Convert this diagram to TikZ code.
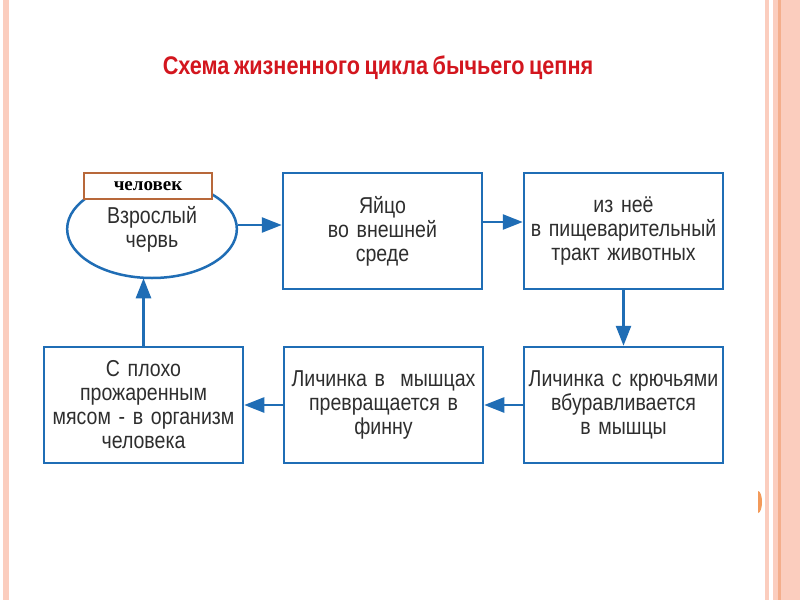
\documentclass[tikz,border=0pt]{standalone}
\usepackage{fontspec}
\setmainfont{Liberation Sans}[FakeStretch=0.85,WordSpace=0.75]
\newfontfamily\labelfont{Liberation Serif}
\usetikzlibrary{arrows.meta,shapes.geometric}
\definecolor{cycleblue}{HTML}{1F6DB5}
\definecolor{cyclered}{HTML}{D3161E}
\definecolor{stagegray}{HTML}{2E2E2E}
\definecolor{labelbrown}{HTML}{B8683A}
\definecolor{slidepink}{HTML}{FBCDBE}
\definecolor{slidesalmon}{HTML}{F4AE8C}
\definecolor{slidedot}{HTML}{F39A5A}
\tikzset{
  stage/.style={
    draw=cycleblue, line width=2.5pt, fill=white,
    minimum width=199pt, minimum height=116pt, inner sep=2pt,
    text width=190pt, align=center, text=stagegray,
    font={\fontsize{23}{24}\selectfont}
  },
  worm/.style={
    stage, ellipse, minimum width=138pt, minimum height=98pt,
    text width=120pt, inner sep=0pt
  },
  hostlabel/.style={
    draw=labelbrown, line width=1.6pt, fill=white,
    minimum width=128pt, minimum height=26pt, inner sep=0pt,
    font={\labelfont\bfseries\fontsize{19}{20}\selectfont}
  },
  cycle/.style={
    draw=cycleblue, line width=2.5pt,
    -{Triangle[length=20pt,width=15pt]}
  }
}
\begin{document}
\begin{tikzpicture}[x=1pt,y=-1pt]
\useasboundingbox (0,0) rectangle (800,600);
\fill[white] (0,0) rectangle (800,600);
% slide frame
\fill[slidepink] (3,0) rectangle (9,600);
\fill[slidepink] (765,0) rectangle (769,600);
\fill[slidepink] (773,0) rectangle (800,600);
\fill[slidesalmon] (778,0) rectangle (781,600);
\fill[slidedot] (758,513) arc[start angle=90,end angle=-90,x radius=4,y radius=11] -- cycle;

\node[font={\bfseries\fontsize{25.5}{28}\selectfont}, text=cyclered] (title) at (378,68) {Схема жизненного цикла бычьего цепня};

\node[worm] (adult) at (152,229) {Взрослый\\червь};
\node[stage] (egg) at (382.5,231) {Яйцо\\во внешней\\среде};
\node[stage] (gut) at (623.5,231) {из неё\\в пищеварительный\\тракт животных};
\node[stage] (hooks) at (623.5,405) {Личинка с крючьями\\вбуравливается\\в мышцы};
\node[stage] (cyst) at (383.5,405) {Личинка в~~мышцах\\превращается в\\финну};
\node[stage] (meat) at (143.5,405) {С плохо\\прожаренным\\мясом - в организм\\человека};
\node[hostlabel] (host) at (148,186) {человек};

\draw[cycle] ([yshift=4pt]adult.east) -- ([yshift=4pt]adult.east -| egg.west);
\draw[cycle] ([yshift=9pt]egg.east) -- ([yshift=9pt]gut.west);
\draw[cycle] (gut.south) -- (gut.south |- hooks.north);
\draw[cycle] (hooks.west) -- (hooks.west -| cyst.east);
\draw[cycle] (cyst.west) -- (cyst.west -| meat.east);
\draw[cycle] (meat.north) -- ([yshift=1pt]meat.north |- adult.south);
\end{tikzpicture}
\end{document}
